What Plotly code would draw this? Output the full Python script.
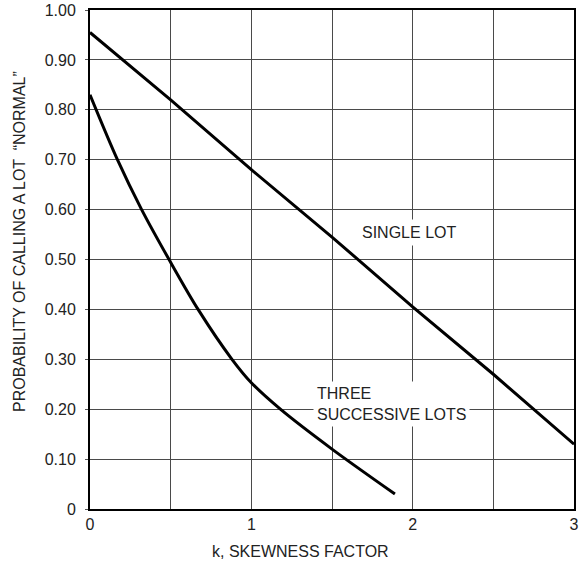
import plotly.graph_objects as go

# Data
single_x = [0, 0.5, 1.0, 1.5, 2.0, 2.5, 3.0]
single_y = [0.955, 0.82, 0.68, 0.545, 0.405, 0.27, 0.13]

three_x = [0, 0.17, 0.32, 0.49, 0.67, 0.88, 1.0, 1.18, 1.5, 1.89]
three_y = [0.83, 0.70, 0.60, 0.50, 0.40, 0.30, 0.253, 0.20, 0.12, 0.03]

x_tickvals = [0, 0.5, 1, 1.5, 2, 2.5, 3]
x_ticktext = ["0", "", "1", "", "2", "", "3"]
y_tickvals = [0, 0.1, 0.2, 0.3, 0.4, 0.5, 0.6, 0.7, 0.8, 0.9, 1.0]
y_ticktext = ["0", "0.10", "0.20", "0.30", "0.40", "0.50", "0.60", "0.70", "0.80", "0.90", "1.00"]

FONT = "Liberation Sans, Arial, sans-serif"
TXT = "#222"

fig = go.Figure()
fig.add_trace(go.Scatter(x=single_x, y=single_y, mode="lines",
                         line=dict(color="black", width=3), showlegend=False))
fig.add_trace(go.Scatter(x=three_x, y=three_y, mode="lines",
                         line=dict(color="black", width=3, shape="spline", smoothing=0.9),
                         showlegend=False))

fig.add_annotation(x=1.98, y=0.555, text="SINGLE LOT", showarrow=False,
                   font=dict(size=16, color=TXT, family=FONT),
                   bgcolor="white", borderpad=4)
fig.add_annotation(x=1.866, y=0.21, text="THREE<br>SUCCESSIVE LOTS", showarrow=False,
                   align="left", font=dict(size=16, color=TXT, family=FONT),
                   bgcolor="white", borderpad=3)

# axis titles placed as annotations
fig.add_annotation(xref="paper", yref="paper", x=-71 / 484, y=(509 - 242) / 499,
                   xanchor="center", yanchor="middle", textangle=-90,
                   text="PROBABILITY OF CALLING A LOT  \u201cNORMAL\u201d",
                   showarrow=False, font=dict(size=16, color=TXT, family=FONT))
fig.add_annotation(xref="paper", yref="paper", x=(300 - 90) / 484, y=-(551 - 509) / 499,
                   xanchor="center", yanchor="middle",
                   text="k, SKEWNESS FACTOR",
                   showarrow=False, font=dict(size=16, color=TXT, family=FONT))

fig.update_layout(
    width=580, height=562,
    margin=dict(l=90, r=6, t=10, b=53),
    paper_bgcolor="white", plot_bgcolor="white",
    font=dict(family=FONT, size=16, color=TXT),
    xaxis=dict(range=[0, 3], tickvals=x_tickvals, ticktext=x_ticktext,
               showgrid=True, gridcolor="#4a4a4a", gridwidth=1,
               showline=True, linecolor="black", linewidth=2, mirror=True,
               zeroline=False, ticks="", ticklabelstandoff=0,
               tickfont=dict(size=16), automargin=False),
    yaxis=dict(range=[0, 1.0], tickvals=y_tickvals, ticktext=y_ticktext,
               showgrid=True, gridcolor="#4a4a4a", gridwidth=1,
               showline=True, linecolor="black", linewidth=2, mirror=True,
               zeroline=False, ticks="outside", ticklen=3, tickcolor="#555",
               ticklabelstandoff=6,
               tickfont=dict(size=16), automargin=False),
)

fig.write_html("out.html", config={"displayModeBar": False},
               post_script="document.body.style.margin='0';document.body.style.overflow='hidden';")
